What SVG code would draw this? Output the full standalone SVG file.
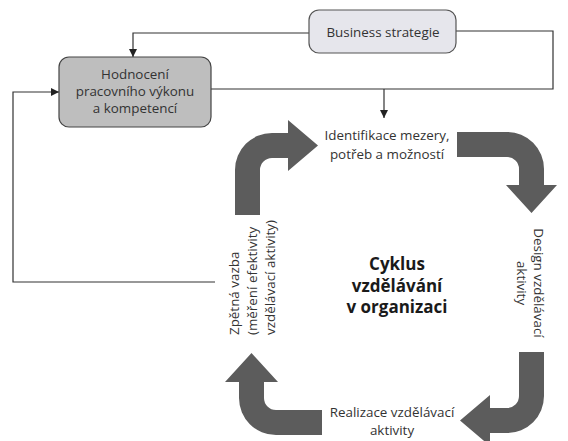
<svg xmlns="http://www.w3.org/2000/svg" width="568" height="441" viewBox="0 0 568 441">
<defs>
<style>
.t{font-family:"Open Sans","Noto Sans","Liberation Sans",sans-serif;font-size:13.4px;fill:#333}
.b{font-family:"Open Sans","Noto Sans","Liberation Sans",sans-serif;font-size:17px;font-weight:bold;fill:#1a1a1a}
.ln{fill:none;stroke:#333;stroke-width:1.2}
.arr{fill:#5c5c5c}
</style>
<marker id="ah" viewBox="0 0 10 10" refX="10" refY="5" markerWidth="8" markerHeight="8" markerUnits="userSpaceOnUse" orient="auto">
<path d="M0,0 L10,5 L0,10 Z" fill="#222"/>
</marker>
</defs>
<rect width="568" height="441" fill="#fff"/>
<g id="connectors">
<polyline class="ln" points="309,33 133,33 133,57" marker-end="url(#ah)"/>
<polyline class="ln" points="456,31 553,31 553,89 211,89"/>
<line class="ln" x1="384" y1="89" x2="384" y2="118" marker-end="url(#ah)"/>
<polyline class="ln" points="215,282 13,282 13,92 59,92" marker-end="url(#ah)"/>
</g>
<g id="business">
<rect x="309" y="10" width="147" height="43" rx="10" fill="#e6e6ec" stroke="#555" stroke-width="1.2"/>
<text class="t" x="383" y="37" text-anchor="middle">Business strategie</text>
</g>
<g id="hodnoceni">
<rect x="59" y="57" width="152" height="70" rx="10" fill="#bebebe" stroke="#444" stroke-width="1.2"/>
<text class="t" x="135" y="79" text-anchor="middle">Hodnocení</text>
<text class="t" x="135" y="96" text-anchor="middle">pracovního výkonu</text>
<text class="t" x="135" y="113" text-anchor="middle">a kompetencí</text>
</g>
<g id="identifikace">
<text class="t" x="387" y="140" text-anchor="middle">Identifikace mezery,</text>
<text class="t" x="387" y="159" text-anchor="middle">potřeb a možností</text>
</g>
<g id="design">
<text class="t" transform="translate(534,283) rotate(90)" text-anchor="middle">Design vzdělávací</text>
<text class="t" transform="translate(517,283) rotate(90)" text-anchor="middle">aktivity</text>
</g>
<g id="realizace">
<text class="t" x="392" y="417" text-anchor="middle">Realizace vzdělávací</text>
<text class="t" x="392" y="435" text-anchor="middle">aktivity</text>
</g>
<g id="zpetna">
<text class="t" transform="translate(239,335) rotate(-90)">Zpětná vazba</text>
<text class="t" transform="translate(257,335) rotate(-90)">(měření efektivity</text>
<text class="t" transform="translate(275,335) rotate(-90)">vzdělávací aktivity)</text>
</g>
<g id="cyklus">
<text class="b" x="397" y="270" text-anchor="middle">Cyklus</text>
<text class="b" x="397" y="292" text-anchor="middle">vzdělávání</text>
<text class="b" x="397" y="313" text-anchor="middle">v organizaci</text>
</g>
<g id="arrows">
<path class="arr" d="M235,215 L235,170 A37,37 0 0 1 272,133 L288,133 L288,120 L318,145.5 L288,171 L288,158 L272,158 A12,12 0 0 0 260,170 L260,215 Z"/>
<path class="arr" d="M457,132 L507,132 A37,37 0 0 1 544,169 L544,185 L557,185 L531.5,213 L506,185 L519,185 L519,169 A12,12 0 0 0 507,157 L457,157 Z"/>
<path class="arr" d="M519,352 L544,352 L544,396 A37,37 0 0 1 507,433 L490,433 L490,446 L460,420.5 L490,395 L490,408 L507,408 A12,12 0 0 0 519,396 Z"/>
<path class="arr" d="M322,410 L276,410 A12,12 0 0 1 264,398 L264,382 L278,382 L251.5,353 L225,382 L239,382 L239,398 A37,37 0 0 0 276,435 L322,435 Z"/>
</g>
</svg>
